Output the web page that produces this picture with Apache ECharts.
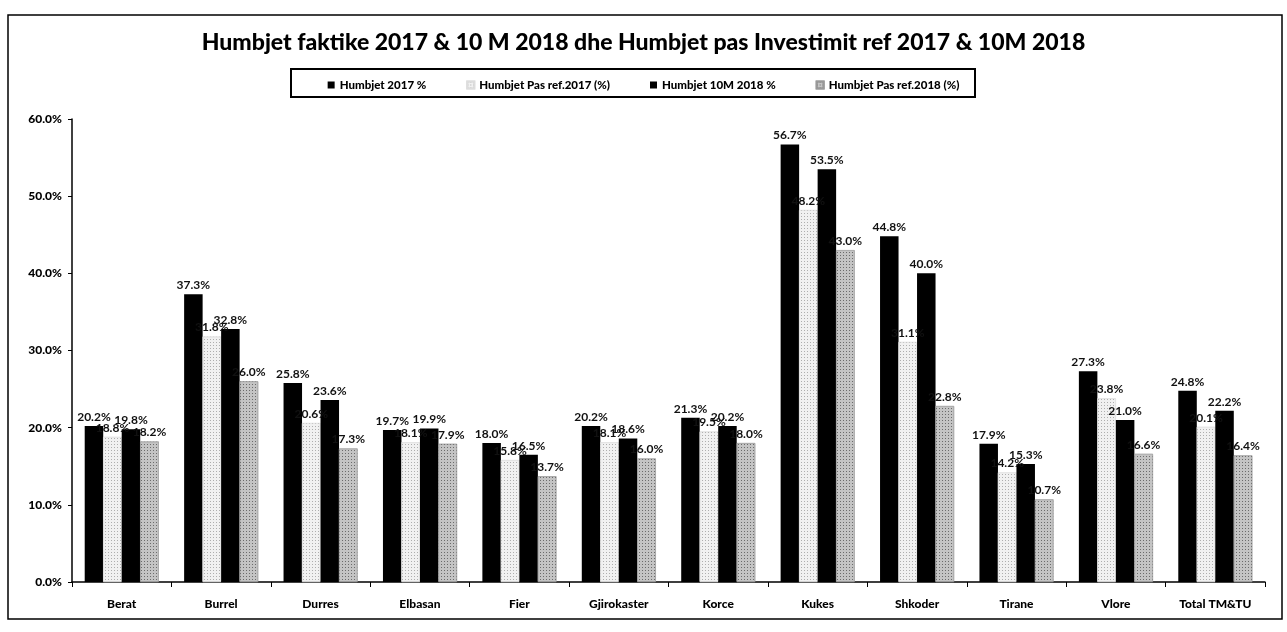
<!DOCTYPE html>
<html><head><meta charset="utf-8">
<script src="https://cdn.jsdelivr.net/npm/echarts@6/dist/echarts.min.js"></script>
<style>html,body{margin:0;padding:0;background:#fff;}#c{width:1287px;height:632px;}</style>
</head><body><div id="c"></div>
<script>
const categories = ['Berat','Burrel','Durres','Elbasan','Fier','Gjirokaster','Korce','Kukes','Shkoder','Tirane','Vlore','Total TM&TU'];
const humbjet2017 = [20.2,37.3,25.8,19.7,18.0,20.2,21.3,56.7,44.8,17.9,27.3,24.8];
const pasRef2017 = [18.8,31.8,20.6,18.1,15.8,18.1,19.5,48.2,31.1,14.2,23.8,20.1];
const humbjet10M2018 = [19.8,32.8,23.6,19.9,16.5,18.6,20.2,53.5,40.0,15.3,21.0,22.2];
const pasRef2018 = [18.2,26.0,17.3,17.9,13.7,16.0,18.0,43.0,22.8,10.7,16.6,16.4];
const seriesNames = ['Humbjet 2017 %','Humbjet Pas ref.2017 (%)','Humbjet 10M 2018 %','Humbjet Pas ref.2018 (%)'];
const yTicks = [0,10,20,30,40,50,60];

const F = 'Lato, "Open Sans", sans-serif';
const lbl = {show:true, position:'top', distance:3, color:'#111', fontFamily:F, fontWeight:'bold', fontSize:12,
  formatter: p => p.value.toFixed(1)+'%'};
const dots = (c) => ({symbol:'rect', symbolSize:1, color:c, dashArrayX:[1,2], dashArrayY:[1,2], rotation:0});

const chart = echarts.init(document.getElementById('c'), null, {renderer:'canvas'});
chart.setOption({
  backgroundColor:'#fff',
  animation:false,
  title:{text:'Humbjet faktike 2017 & 10 M 2018 dhe Humbjet pas Investimit ref 2017 & 10M 2018',
    left:'center', top:26, textStyle:{fontFamily:F, fontWeight:900, fontSize:23, color:'#000'}},
  legend:{top:74, left:'center', icon:'rect', itemWidth:7, itemHeight:7, itemGap:40,
    textStyle:{fontFamily:F, fontWeight:900, fontSize:11.5, color:'#000'},
    data:seriesNames},
  grid:{left:72, right:22, top:119, bottom:50},
  xAxis:{type:'category', data:categories,
    axisLine:{lineStyle:{color:'#000', width:1.5}},
    axisTick:{show:true, length:5, lineStyle:{color:'#000'}},
    axisLabel:{fontFamily:F, fontWeight:900, fontSize:12, color:'#000', margin:16, interval:0}},
  yAxis:{type:'value', min:yTicks[0], max:yTicks[yTicks.length-1], interval:10,
    axisLine:{show:true, lineStyle:{color:'#000', width:1.5}},
    axisTick:{show:true, length:4, lineStyle:{color:'#000'}},
    splitLine:{show:false},
    axisLabel:{fontFamily:F, fontWeight:900, fontSize:12, color:'#000', margin:10, formatter:v=>v.toFixed(1)+'%'}},
  series:[
    {name:seriesNames[0], type:'bar', data:humbjet2017, barWidth:18.5, barGap:'0%', barCategoryGap:'25%',
      itemStyle:{color:'#000'}, label:lbl},
    {name:seriesNames[1], type:'bar', data:pasRef2017, barWidth:18.5, barGap:'0%',
      itemStyle:{color:'#f1f1f1', borderColor:'#ddd', borderWidth:0.5, decal:dots('rgba(0,0,0,0.28)')}, label:lbl},
    {name:seriesNames[2], type:'bar', data:humbjet10M2018, barWidth:18.5, barGap:'0%',
      itemStyle:{color:'#000'}, label:lbl},
    {name:seriesNames[3], type:'bar', data:pasRef2018, barWidth:18.5, barGap:'0%',
      itemStyle:{color:'#c4c4c4', borderColor:'#999', borderWidth:0.5, decal:dots('rgba(0,0,0,0.45)')}, label:lbl}
  ],
  graphic:[
    {type:'rect', shape:{x:8, y:15, width:1274, height:604}, style:{fill:'none', stroke:'#000', lineWidth:1.5}, silent:true},
    {type:'rect', shape:{x:291, y:69, width:684, height:28}, style:{fill:'none', stroke:'#000', lineWidth:2}, silent:true}
  ]
});
</script></body></html>
